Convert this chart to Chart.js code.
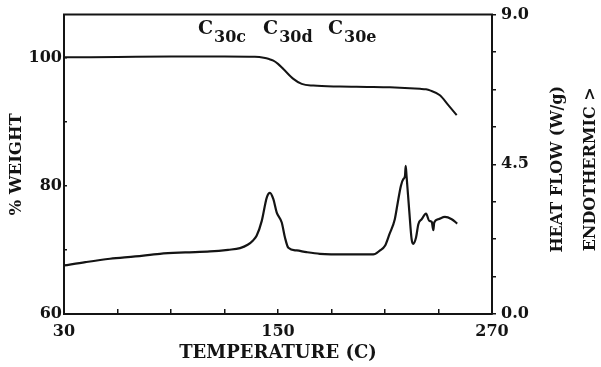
<!DOCTYPE html>
<html>
<head>
<meta charset="utf-8">
<script src="https://cdn.jsdelivr.net/npm/chart.js@4/dist/chart.umd.min.js"></script>
<style>
  html, body { margin: 0; padding: 0; background: #fff; }
  #wrap { width: 601px; height: 367px; }
</style>
</head>
<body>
<div id="wrap"><canvas id="c" width="601" height="367"></canvas></div>
<script>
// Thermogravimetric trace: temperature (C) vs % weight
const tgaTemp   = [30, 60, 90, 120, 137, 142, 145, 147.4, 150, 153, 158.6, 163.3, 169.8, 184.7, 200, 212.8, 229.6, 233, 235.2, 240.8, 245.5, 250.2];
const tgaWeight = [100.12, 100.18, 100.24, 100.27, 100.2, 100.05, 99.85, 99.6, 99.1, 98.3, 96.75, 95.97, 95.7, 95.55, 95.5, 95.44, 95.2, 95.12, 94.96, 94.19, 92.64, 91.09];

// DSC trace: temperature (C) vs heat flow (W/g), endothermic up
const dscTemp = [30, 42, 55.8, 70, 83.8, 98, 111.9, 122, 128.7, 133, 136, 138, 140.9, 143.7, 145.5, 147.4, 149.3, 152.1, 153.9, 155.8, 160.5, 166, 173.5, 188.5, 203.4, 207.2, 210, 212.5, 215.5, 217, 218.9, 220.2, 221.2, 221.6, 222.1, 223.6, 224.9, 225.8, 227.4, 228.7, 230.6, 233.0, 234.8, 236.2, 237.1, 237.6, 239.9, 243.6, 247.4, 250.5];
const dscHeat = [1.46, 1.56, 1.66, 1.73, 1.81, 1.85, 1.88, 1.93, 1.98, 2.08, 2.21, 2.35, 2.80, 3.50, 3.64, 3.45, 3.05, 2.75, 2.30, 1.99, 1.91, 1.86, 1.81, 1.79, 1.79, 1.91, 2.05, 2.40, 2.85, 3.30, 3.85, 4.05, 4.15, 4.45, 4.14, 3.10, 2.26, 2.11, 2.30, 2.70, 2.85, 3.02, 2.80, 2.77, 2.52, 2.75, 2.85, 2.92, 2.85, 2.72];

// Axis tick labels
const tempLabels   = [30, 150, 270];
const weightLabels = [60, 80, 100];
const heatLabels   = [0, 4.5, 9];

// Phase annotations above the curves
const phaseNames = [
  { base: 'C', sub: '30c', at: 105.1 },
  { base: 'C', sub: '30d', at: 141.6 },
  { base: 'C', sub: '30e', at: 178.0 }
];

const INK = '#141414';
const SERIF = '"DejaVu Serif", "Liberation Serif", serif';

const toPoints = (xs, ys) => xs.map((x, i) => ({ x: x, y: ys[i] }));

const frameAndNotes = {
  id: 'frameAndNotes',
  afterDraw(chart) {
    const { ctx, chartArea } = chart;
    const xs = chart.scales.x;
    ctx.save();
    // top edge of the plot frame
    ctx.strokeStyle = INK;
    ctx.lineWidth = 2;
    ctx.beginPath();
    ctx.moveTo(chartArea.left - 1, chartArea.top);
    ctx.lineTo(chartArea.right + 1, chartArea.top);
    ctx.stroke();

    // phase labels with subscripts
    ctx.fillStyle = INK;
    ctx.textBaseline = 'alphabetic';
    ctx.textAlign = 'left';
    phaseNames.forEach(p => {
      const x = xs.getPixelForValue(p.at);
      ctx.font = 'bold 19px ' + SERIF;
      ctx.fillText(p.base, x, 34);
      const w = ctx.measureText(p.base).width;
      ctx.font = 'bold 16px ' + SERIF;
      ctx.fillText(p.sub, x + w + 1, 42);
    });

    // right-hand axis titles, reading bottom to top
    const cy = (chartArea.top + chartArea.bottom) / 2 + 5;
    ctx.font = 'bold 16px ' + SERIF;
    ctx.textAlign = 'center';
    ctx.textBaseline = 'middle';
    [['HEAT FLOW (W/g)', 558], ['ENDOTHERMIC >', 591]].forEach(([t, x]) => {
      ctx.save();
      ctx.translate(x, cy);
      ctx.rotate(-Math.PI / 2);
      ctx.fillText(t, 0, 0);
      ctx.restore();
    });
    ctx.restore();
  }
};

new Chart(document.getElementById('c'), {
  type: 'line',
  data: {
    datasets: [
      {
        label: '% Weight',
        data: toPoints(tgaTemp, tgaWeight),
        yAxisID: 'y',
        borderColor: INK,
        borderWidth: 2,
        pointRadius: 0,
        fill: false,
        cubicInterpolationMode: 'monotone'
      },
      {
        label: 'Heat flow',
        data: toPoints(dscTemp, dscHeat),
        yAxisID: 'y2',
        borderColor: INK,
        borderWidth: 2.2,
        pointRadius: 0,
        fill: false,
        cubicInterpolationMode: 'monotone'
      }
    ]
  },
  options: {
    responsive: false,
    devicePixelRatio: 1,
    animation: false,
    layout: { padding: { top: 12, left: 0, right: 0, bottom: 0 } },
    plugins: { legend: { display: false }, tooltip: { enabled: false } },
    scales: {
      x: {
        type: 'linear',
        position: 'bottom',
        min: 30,
        max: 270,
        afterFit(s) { s.height = 53; },
        afterBuildTicks(s) {
          const t = [];
          for (let v = 30; v <= 270; v += 30) t.push({ value: v });
          s.ticks = t;
        },
        border: { color: INK, width: 2 },
        grid: { drawOnChartArea: false, tickLength: -5, color: INK, lineWidth: 1.5 },
        ticks: {
          padding: 13,
          color: INK,
          maxRotation: 0,
          autoSkip: false,
          font: { family: SERIF, weight: 'bold', size: 16 },
          callback: v => tempLabels.includes(v) ? String(v) : ''
        },
        title: {
          display: true,
          text: 'TEMPERATURE (C)',
          color: INK,
          font: { family: SERIF, weight: 'bold', size: 18 },
          padding: { top: 0, bottom: 3 }
        }
      },
      y: {
        type: 'linear',
        position: 'left',
        min: 60,
        max: 106.8,
        afterFit(s) { s.width = 64; },
        afterBuildTicks(s) {
          s.ticks = [60, 70, 80, 90, 100].map(v => ({ value: v }));
        },
        border: { color: INK, width: 2 },
        grid: { drawOnChartArea: false, tickLength: -3, color: INK, lineWidth: 1.5 },
        ticks: {
          padding: 5,
          color: INK,
          autoSkip: false,
          font: { family: SERIF, weight: 'bold', size: 16 },
          callback: v => weightLabels.includes(v) ? String(v) : ''
        },
        title: {
          display: true,
          text: '% WEIGHT',
          color: INK,
          font: { family: SERIF, weight: 'bold', size: 16.5 },
          padding: { top: 7, bottom: 0 }
        }
      },
      y2: {
        type: 'linear',
        position: 'right',
        min: 0,
        max: 9,
        afterFit(s) { s.width = 109; },
        afterBuildTicks(s) {
          const t = [];
          for (let i = 0; i <= 8; i++) t.push({ value: i * 1.125 });
          s.ticks = t;
        },
        border: { color: INK, width: 2 },
        grid: { drawOnChartArea: false, tickLength: 4, color: INK, lineWidth: 1.5 },
        ticks: {
          padding: 5,
          color: INK,
          autoSkip: false,
          font: { family: SERIF, weight: 'bold', size: 16 },
          callback: v => heatLabels.some(h => Math.abs(h - v) < 1e-6) ? v.toFixed(1) : ''
        }
      }
    }
  },
  plugins: [frameAndNotes]
});
</script>
</body>
</html>
